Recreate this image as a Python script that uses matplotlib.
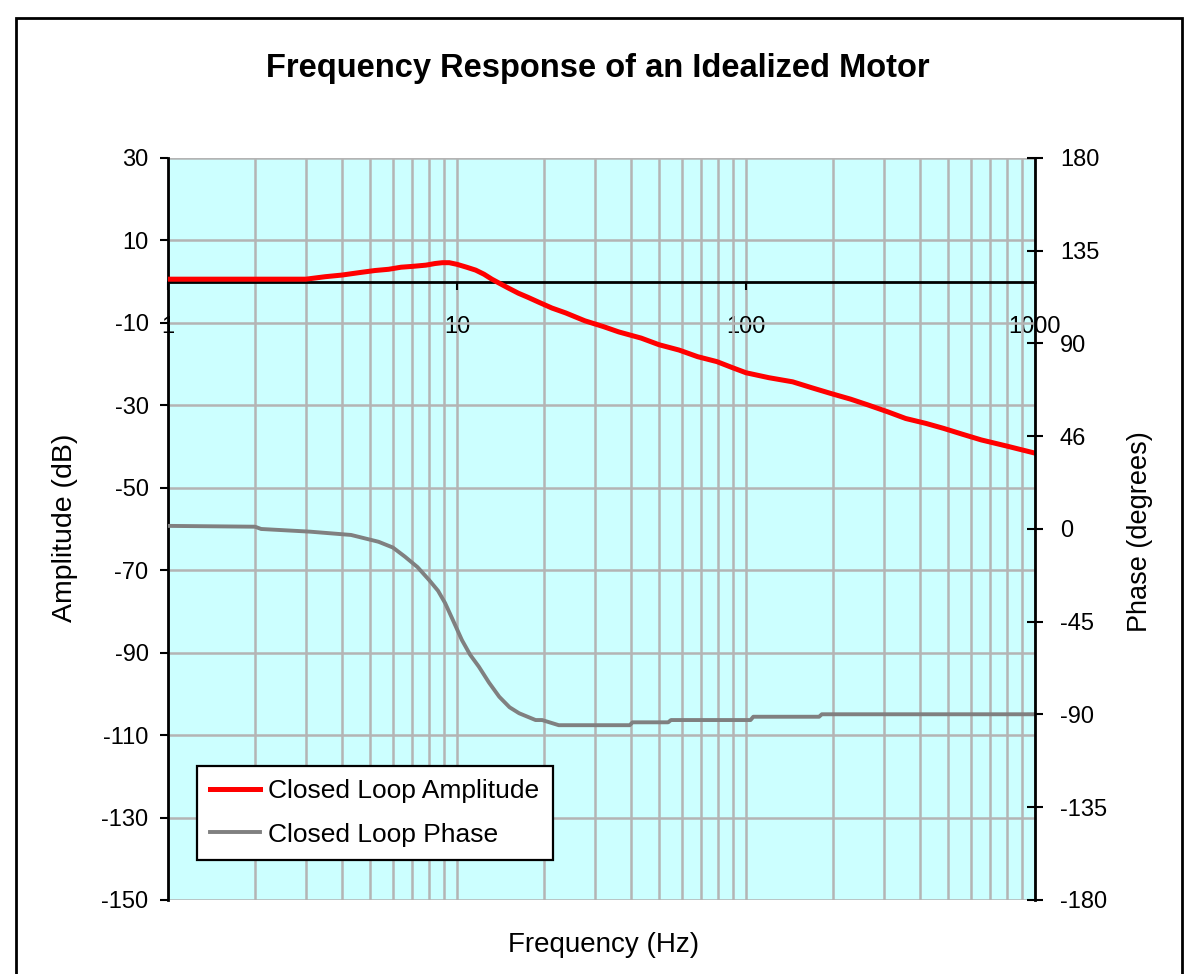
import numpy as np
import matplotlib
matplotlib.use("Agg")
import matplotlib.pyplot as plt
from matplotlib.patches import Rectangle
from matplotlib.ticker import LogLocator, NullFormatter

plt.rcParams['font.family'] = ['Liberation Sans', 'DejaVu Sans']

# closed loop amplitude (dB)
amp_freq = [1, 2, 3, 3.5, 4.0, 4.6, 5.2, 5.8, 6.4, 7.0, 7.8, 8.4, 8.9, 9.4, 10,
            10.8, 11.6, 12.4, 13.2, 14.2, 15.1, 16.3, 17.6, 19.2, 21.3, 23.8,
            27.7, 32.1, 36.3, 43.4, 50, 58.7, 68, 79.3, 90, 100, 120, 145, 170,
            196, 230, 264, 310, 357, 420, 483, 560, 652, 800, 1000]
amp_db = [0.6, 0.6, 0.6, 1.2, 1.6, 2.2, 2.7, 3.0, 3.5, 3.7, 4.0, 4.4, 4.6, 4.6, 4.2,
          3.5, 2.8, 1.8, 0.6, -0.6, -1.6, -2.8, -3.8, -5.0, -6.4, -7.6,
          -9.5, -10.9, -12.2, -13.7, -15.3, -16.6, -18.2, -19.4, -20.9, -22.1, -23.3, -24.3, -25.8,
          -27.1, -28.5, -29.9, -31.6, -33.2, -34.4, -35.6, -37.0, -38.4, -39.9, -41.6]

# closed loop phase (degrees)
ph_freq = [1, 2.0, 2.1, 3.1, 4.3, 5.35, 6.0, 6.6, 7.3, 8.0, 8.6, 9.1, 9.7, 10.4, 11.1, 11.9, 12.9, 14.0,
           15.2, 16.4, 18.7, 19.7, 22.5, 39.6, 40.5, 53.8, 55, 103.7, 106, 179, 183, 1000]
ph_deg = [1.5, 1.1, 0.0, -1.3, -2.9, -6.2, -9.0, -13.4, -18.5, -24.7, -30.0, -36.0, -44.5, -53.9, -61.0, -66.8, -74.5, -81.4,
          -86.5, -89.4, -92.7, -92.7, -95.2, -95.2, -93.8, -93.8, -92.7, -92.7, -91.1, -91.1, -89.9, -89.9]

x_ticks = [1, 10, 100, 1000]
x_labels = ['1', '10', '100', '1000']
amp_ticks = list(range(-150, 31, 20))
amp_labels = ['-150', '-130', '-110', '-90', '-70', '-50', '-30', '-10', '10', '30']
ph_ticks = list(range(-180, 181, 45))
ph_labels = ['-180', '-135', '-90', '-45', '0', '46', '90', '135', '180']

fig = plt.figure(figsize=(12, 9.74), dpi=100)
ax = fig.add_axes([0.14, 0.076, 0.7225, 0.7618])
ax.set_facecolor('#ccffff')

ax.set_xscale('log')
ax.set_xlim(1, 1000)
ax.set_ylim(-150, 30)
ax.set_xticks(x_ticks)
ax.set_xticklabels(x_labels)
ax.xaxis.set_minor_locator(LogLocator(base=10, subs=range(2, 10)))
ax.xaxis.set_minor_formatter(NullFormatter())
ax.set_yticks(amp_ticks)
ax.set_yticklabels(amp_labels)

ax.grid(which='both', axis='x', color='#b4b4b4', lw=1.8)
ax.grid(which='major', axis='y', color='#b4b4b4', lw=1.8)
ax.set_axisbelow(True)

for s in ['top', 'right']:
    ax.spines[s].set_visible(False)
ax.spines['left'].set_linewidth(2)
ax.spines['bottom'].set_position(('data', 0))
ax.spines['bottom'].set_linewidth(2)
ax.spines['bottom'].set_zorder(1.5)

ax.tick_params(axis='x', which='major', direction='out', length=6, width=1.5, pad=19, labelsize=17)
ax.tick_params(axis='x', which='minor', length=0)
ax.tick_params(axis='y', direction='out', length=6, width=1.5, pad=8, labelsize=17)

l1, = ax.plot(amp_freq, amp_db, color='#ff0000', lw=3.6, label='Closed Loop Amplitude', zorder=3)

ax2 = ax.twinx()
ax2.set_ylim(-180, 180)
ax2.set_yticks(ph_ticks)
ax2.set_yticklabels(ph_labels)
for s in ['top', 'left', 'bottom']:
    ax2.spines[s].set_visible(False)
ax2.spines['right'].set_linewidth(2)
ax2.tick_params(axis='y', direction='inout', length=12, width=1.5, pad=12, labelsize=17)

l2, = ax2.plot(ph_freq, ph_deg, color='#808080', lw=2.8, label='Closed Loop Phase')

leg = ax2.legend(handles=[l1, l2], loc='lower left', bbox_to_anchor=(0.0334, 0.054),
                 borderaxespad=0, fontsize=19, frameon=True, fancybox=False,
                 framealpha=1, edgecolor='black', handlelength=1.9,
                 handletextpad=0.3, labelspacing=0.75, borderpad=0.5)
leg.get_frame().set_linewidth(1.6)

fig.text(0.498, 0.930, 'Frequency Response of an Idealized Motor',
         ha='center', va='center', fontsize=23.5, fontweight='bold')
fig.text(0.503, 0.030, 'Frequency (Hz)', ha='center', va='center', fontsize=20)
fig.text(0.054, 0.458, 'Amplitude (dB)', ha='center', va='center', rotation=90, fontsize=20.5)
fig.text(0.950, 0.454, 'Phase (degrees)', ha='center', va='center', rotation=90, fontsize=19.5)

# outer chart border (cut off at the bottom like the original)
fig.patches.append(Rectangle((0.0133, -0.05), 0.9717, 1.0315, transform=fig.transFigure,
                             fill=False, ec='black', lw=2))

fig.savefig('out.png', dpi=100, facecolor='white')
